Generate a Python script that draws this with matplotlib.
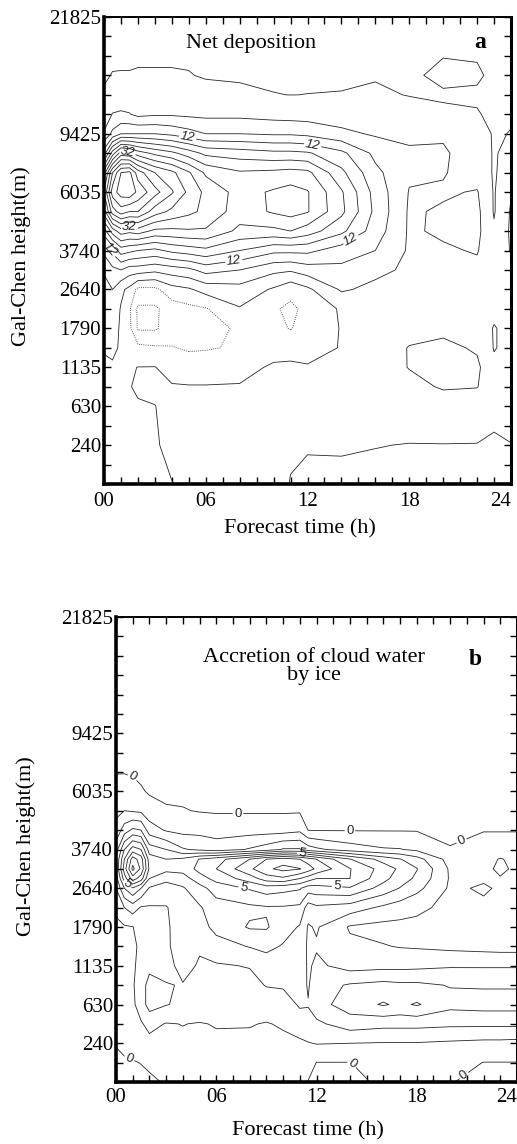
import numpy as np
import matplotlib
matplotlib.use("Agg")
import matplotlib.pyplot as plt

plt.rcParams["font.family"] = ["Liberation Serif", "DejaVu Serif"]

# axis labelling: model level index -> Gal-Chen height
level_ticks = [2, 4, 6, 8, 10, 12, 15, 18, 24]
height_labels = ["240", "630", "1135", "1790", "2640", "3740", "6035", "9425", "21825"]
hour_ticks = [0, 6, 12, 18, 24]
hour_labels = ["00", "06", "12", "18", "24"]

# ---------------- panel a: net deposition ----------------
hours_a = [0, 0.5, 1, 1.5, 2, 3, 4, 5, 6, 8, 10, 11, 12, 14, 16, 18, 20, 22, 23, 24]
levels_a = [0, 2, 4, 5, 6, 7, 8, 9, 10, 11, 12, 13, 14, 15, 16, 17, 18, 19, 20, 21, 22, 24]
# one profile per hour, bottom -> top
net_dep_cols = [
    [-0.5, -0.5, -0.5, -0.5, -0.4, 0.2, 1.0, 1.5, 2.5, 4.5, 9, 18, 30, 36, 30, 14, 4.5, 1.2, 0.3, -0.3, -0.5, -0.5],
    [-0.6, -0.6, -0.6, -0.6, -0.3, 0.5, 1.5, 2.5, 4, 7, 13, 26, 42, 50, 44, 26, 9, 4.2, 1.0, 0.1, -0.4, -0.5],
    [-0.5, -0.5, -0.5, -0.5, -0.6, -0.3, -0.5, -0.3, 0.8, 8, 18, 30, 46, 54, 52, 34, 12, 4.5, 1.8, 0.1, -0.3, -0.5],
    [-0.8, -0.8, -0.5, -0.1, -0.3, -1.5, -3, -3.5, -1, 6, 17, 29, 44, 55, 53, 33, 12, 4.2, 1.5, 0.1, -0.3, -0.5],
    [-0.8, -0.6, -0.2, 0.3, 0.05, -3, -8.5, -8.7, -5, 6, 16, 30, 44, 51, 46, 30, 12, 3.0, 1.5, 0.2, -0.3, -0.5],
    [-0.3, -0.2, -0.05, 0.6, 0.1, -3.5, -8.5, -8.7, -5, 5, 15, 27, 38, 45.5, 40, 27, 12, 3.5, 1.5, 0.2, -0.3, -0.5],
    [-0.05, 0.5, 0.8, 0.3, -1.5, -3.8, -6, -6, -1.5, 6, 17, 27, 35, 40.5, 37, 25, 11, 3.5, 1.5, 0.2, -0.3, -0.5],
    [0.3, 0.8, 1, 0.2, -2, -4.5, -5.5, -5, -0.5, 7, 18, 27.5, 33, 35, 32.5, 22, 9.5, 3.2, 1.2, 0.1, -0.3, -0.5],
    [1, 1, 0.8, 0.2, -2, -4.3, -5, -4.3, 1.5, 9.5, 19, 27.5, 31, 31, 27.3, 19, 8, 3, 0.8, -0.2, -0.4, -0.5],
    [1, 1, 0.8, 0.3, -1.5, -3.6, -3.6, -0.3, 2.5, 8, 16, 23, 26, 26.5, 24.5, 18, 8, 3, 0.5, -0.3, -0.4, -0.5],
    [1, 0.8, 0.6, 0.5, 0.6, -1.8, -3, -3.5, -0.5, 5, 13, 23, 28.5, 28.5, 25, 17, 7.5, 2.5, 0.05, -0.3, -0.4, -0.5],
    [-0.1, 0.3, 0.5, 0.6, 0.7, -1.5, -4.2, -4.8, -2.8, 4.5, 13, 24, 29.5, 29.5, 25.5, 17, 7.5, 2.3, -0.02, -0.3, -0.4, -0.5],
    [-0.3, 0.1, 0.5, 0.6, 0.3, -1.5, -2.5, -3, -0.8, 6, 13, 22, 28.3, 28.3, 25, 16.5, 7, 2.2, 0.02, -0.3, -0.4, -0.5],
    [-0.5, 0.2, 0.6, 0.8, 0.6, 0.2, 0.2, 0.5, 4.5, 7, 10, 17, 21, 20.5, 17, 13, 5, 1.8, 0.05, -0.2, -0.4, -0.5],
    [-0.5, 0.05, 0.8, 1, 1.2, 1.5, 1.5, 2, 3, 5, 8, 10, 11, 10.5, 9, 7, 3.5, 1.5, 0.4, -0.2, -0.4, -0.5],
    [-0.5, -0.05, 1, 2.5, 4.2, 4.2, 2.5, 2.2, 2.5, 3.3, 3.5, 3.5, 3.5, 3.8, 4.6, 4.8, 2.8, 1.2, -0.1, -0.3, -0.4, -0.5],
    [-0.5, -0.05, 1.5, 4.5, 5.5, 5, 3, 2, 2.5, 3.5, 3.5, 4.6, 4.5, 3.5, 4.3, 4.5, 3.5, 0.3, -0.2, 0.4, -0.05, -0.5],
    [-0.5, -0.05, 1, 4.2, 4.8, 3.5, 2, 2, 2.5, 3, 4.3, 5, 5, 4.3, 2, 2, 1.5, 0.1, -0.2, 0.2, -0.1, -0.5],
    [-0.5, -0.3, 0.6, 1, 0.8, -0.2, -0.2, 0.8, 1, 1, 1, 0.5, -0.3, -0.3, -0.3, -0.3, -0.3, -0.3, -0.3, -0.3, -0.4, -0.5],
    [-0.5, -0.05, 0.8, 1, 1, 1, 1, 1, 1.5, 2.5, 4.3, 4.6, 4.4, 3.8, 1.5, 1, 0.1, -0.3, -0.3, -0.3, -0.3, -0.5],
]
net_dep = np.array(net_dep_cols).T
pos_levels_a = list(range(0, 57, 4))
neg_levels_a = [-8, -4]
labels_a = {12: [(4.9, 17.6), (12.3, 17.4), (7.7, 11.2), (14.8, 12.2), (0.65, 12.3)],
            32: [(1.35, 16.8), (1.5, 13.2)]}

# ---------------- panel b: accretion of cloud water by ice ----------------
hours_b = [0, 0.5, 1, 1.5, 2, 3, 4, 5, 6, 8, 9, 10, 11, 11.5, 12, 14, 16, 17, 18, 20, 22, 23, 24]
levels_b = [0, 1, 2, 3, 4, 5, 6, 7, 8, 9, 10, 10.5, 11, 11.5, 12, 13, 14, 15, 16, 18, 24]
accretion_cols = [
    [-0.4, -0.2, 0.05, 0.3, 0.4, 0.5, 0.6, 0.7, 0.8, 1.2, 2.0, 2.5, 3.0, 3.0, 2.5, 1.3, 0.8, 0.4, -0.05, -0.3, -0.3],
    [-0.4, -0.1, 0.2, 0.4, 0.5, 0.6, 0.7, 0.8, 0.9, 2.0, 4.0, 5.5, 6.5, 6.0, 5.0, 2.5, 1.0, 0.5, -0.05, -0.3, -0.3],
    [-0.3, -0.05, 0.3, 0.6, 0.8, 0.9, 0.9, 0.9, 0.98, 2.5, 4.9, 7.5, 9.3, 8.5, 6.5, 3.2, 0.9, 0.3, -0.1, -0.3, -0.3],
    [-0.2, 0.02, 0.5, 0.9, 1.5, 1.5, 1.2, 1.1, 1.3, 1.9, 4.0, 6.5, 7.8, 7.5, 6.0, 3.0, 0.8, 0.1, -0.2, -0.3, -0.3],
    [-0.1, 0.1, 0.7, 1.3, 2.4, 2.4, 1.7, 1.4, 1.7, 1.9, 2.9, 4.0, 4.8, 4.5, 3.5, 1.5, 0.4, -0.1, -0.3, -0.3, -0.3],
    [0.05, 0.5, 0.8, 0.95, 2.05, 2.05, 1.7, 1.8, 1.85, 1.95, 2.5, 3.3, 4.3, 4.0, 3.0, 0.9, 0.1, -0.2, -0.3, -0.3, -0.3],
    [0.2, 0.6, 0.85, 1.02, 1.8, 1.95, 2.3, 2.6, 2.5, 2.4, 2.9, 3.5, 4.4, 4.2, 2.1, 0.7, 0.05, -0.2, -0.3, -0.3, -0.3],
    [0.3, 0.6, 0.85, 0.95, 1.6, 1.8, 1.9, 2.1, 2.6, 2.9, 3.6, 4.6, 5.3, 5.05, 1.8, 0.7, -0.05, -0.3, -0.3, -0.3, -0.3],
    [0.3, 0.6, 0.85, 1.05, 1.5, 1.7, 1.9, 2.6, 3.3, 3.5, 4.5, 5.3, 6.0, 5.6, 1.5, 0.6, -0.1, -0.3, -0.3, -0.3, -0.3],
    [0.3, 0.5, 0.8, 1.05, 1.4, 1.7, 2.05, 3.05, 4.1, 3.8, 5.1, 6.5, 7.8, 7.0, 2.1, 0.6, -0.1, -0.3, -0.3, -0.3, -0.3],
    [0.3, 0.5, 0.8, 0.95, 1.5, 2.05, 2.4, 3.3, 4.1, 3.9, 5.5, 7.5, 8.8, 8.0, 2.5, 0.6, -0.1, -0.3, -0.3, -0.3, -0.3],
    [0.3, 0.5, 0.8, 1.1, 1.6, 2.1, 2.6, 2.9, 3.5, 3.9, 5.3, 7.8, 9.3, 8.5, 3.1, 0.6, -0.1, -0.3, -0.3, -0.3, -0.3],
    [0.1, 0.4, 0.8, 1.6, 2.1, 2.5, 2.7, 2.6, 2.9, 3.8, 5.1, 7.0, 9.05, 8.0, 3.1, 0.8, -0.1, -0.3, -0.3, -0.3, -0.3],
    [-0.05, 0.5, 0.95, 1.7, 2.05, 1.9, 1.85, 1.85, 1.9, 2.5, 4.5, 6.5, 8.5, 7.5, 2.5, -0.02, -0.2, -0.3, -0.3, -0.3, -0.3],
    [-0.1, -0.02, 1.05, 1.8, 2.6, 2.6, 2.2, 1.9, 2.1, 2.8, 4.6, 6.0, 7.8, 7.0, 2.2, -0.05, -0.3, -0.3, -0.3, -0.3, -0.3],
    [-0.3, -0.02, 1.0, 2.5, 3.5, 3.1, 1.6, 1.2, 0.9, 2.5, 4.9, 6.0, 6.05, 5.05, 1.5, -0.05, -0.3, -0.3, -0.3, -0.3, -0.3],
    [0.2, 0.5, 0.95, 2.3, 4.1, 3.3, 1.7, 1.05, 0.7, 1.8, 3.6, 4.3, 4.6, 3.6, 1.1, -0.05, -0.3, -0.3, -0.3, -0.3, -0.3],
    [0.3, 0.5, 0.95, 2.3, 3.8, 3.2, 1.7, 0.95, 0.7, 1.5, 2.95, 3.5, 3.8, 3.05, 1.05, -0.05, -0.3, -0.3, -0.3, -0.3, -0.3],
    [0.3, 0.5, 0.95, 2.3, 4.1, 3.2, 1.75, 0.9, 0.75, 1.2, 2.3, 2.8, 3.05, 2.4, 0.8, -0.05, -0.3, -0.3, -0.3, -0.3, -0.3],
    [0.05, 0.4, 0.85, 2.2, 3.3, 2.95, 1.9, 0.75, 0.7, 0.75, 0.85, 0.9, 0.85, 0.6, 0.05, -0.2, -0.3, -0.3, -0.3, -0.3, -0.3],
    [-0.3, -0.02, 0.75, 2.2, 3.4, 2.9, 1.9, 0.65, 0.75, 0.85, 1.1, 0.9, 0.8, 0.7, 0.5, -0.05, -0.3, -0.3, -0.3, -0.3, -0.3],
    [-0.3, -0.02, 0.75, 2.2, 3.4, 2.9, 1.9, 0.6, 0.75, 0.8, 0.9, 0.95, 1.15, 1.05, 0.5, -0.05, -0.3, -0.3, -0.3, -0.3, -0.3],
    [-0.3, -0.02, 0.7, 2.2, 3.4, 2.9, 1.9, 0.6, 0.7, 0.75, 0.8, 0.85, 0.85, 0.8, 0.5, -0.05, -0.3, -0.3, -0.3, -0.3, -0.3],
]
accretion = np.array(accretion_cols).T
pos_levels_b = list(range(0, 10))
labels_b = {0: [(1.1, 15.9), (7.3, 13.9), (14.0, 13.0), (20.6, 12.6), (1.1, 1.8), (14.2, 1.0), (20.6, 0.6)],
            5: [(1.0, 10.6), (11.1, 11.5), (7.7, 10.3), (13.2, 9.7)]}

line_col = "#262626"

W, H = 517, 1144
fig = plt.figure(figsize=(W / 100, H / 100), dpi=100)
ax_a = fig.add_axes([104 / W, 1 - 484 / H, 407 / W, 467 / H])
ax_b = fig.add_axes([116 / W, 1 - 1082 / H, 401 / W, 465 / H])


def style_axes(ax, xpad):
    ax.set_xlim(0, 24)
    ax.set_ylim(0, 24)
    ax.set_xticks(range(25))
    ax.set_xticklabels([hour_labels[hour_ticks.index(h)] if h in hour_ticks else "" for h in range(25)])
    ax.set_yticks(range(25))
    ax.set_yticklabels([height_labels[level_ticks.index(l)] if l in level_ticks else "" for l in range(25)])
    ax.tick_params(direction="in", length=5, width=1.0, top=True, right=True, labelsize=15)
    ax.tick_params(axis="x", pad=xpad)
    ax.tick_params(axis="y", pad=2)
    ax.get_xticklabels()[-1].set_horizontalalignment("right")
    ax.spines["left"].set_linewidth(2.6)
    ax.spines["bottom"].set_linewidth(2.6)
    ax.spines["right"].set_linewidth(2.2)
    ax.spines["top"].set_linewidth(1.4)


def draw_field(ax, hours, levels, field, pos_levels, neg_levels, spots, italic):
    if neg_levels:
        ax.contour(hours, levels, field, levels=neg_levels, colors=line_col,
                   linewidths=0.6, linestyles=[(0, (1, 1.6))])
    plain = [v for v in pos_levels if v not in spots]
    ax.contour(hours, levels, field, levels=plain, colors=line_col,
               linewidths=0.6, linestyles="solid")
    # labelled levels get their own contour set so clabel can place them by hand
    for lev, pts in spots.items():
        cs = ax.contour(hours, levels, field, levels=[lev], colors=line_col,
                        linewidths=0.6, linestyles="solid")
        txts = ax.clabel(cs, manual=pts, inline=True, inline_spacing=2,
                         fmt="%d", fontsize=9.5, colors=line_col)
        for t in txts:
            t.set_fontfamily("Liberation Sans")
            if italic:
                t.set_fontstyle("italic")


# panel a
draw_field(ax_a, hours_a, levels_a, net_dep, pos_levels_a, neg_levels_a, labels_a, True)
style_axes(ax_a, 6)
ax_a.text(8.67, 22.66, "Net deposition", fontsize=16, ha="center", va="center")
ax_a.text(22.2, 22.7, "a", fontsize=17, fontweight="bold", ha="center", va="center")

# panel b
draw_field(ax_b, hours_b, levels_b, accretion, pos_levels_b, [], labels_b, False)
style_axes(ax_b, 4)
ax_b.text(11.85, 21.45, "Accretion of cloud water\nby ice", fontsize=16, ha="center",
          va="center", linespacing=0.95)
ax_b.text(21.5, 21.8, "b", fontsize=17, fontweight="bold", ha="center", va="center")

# axis titles
fig.text(21 / W, 1 - 256 / H, "Gal-Chen height(m)", rotation=90, fontsize=16, ha="center", va="center")
fig.text(26 / W, 1 - 846 / H, "Gal-Chen height(m)", rotation=90, fontsize=16, ha="center", va="center")
fig.text(300 / W, 1 - 529 / H, "Forecast time (h)", fontsize=16, ha="center", va="center")
fig.text(308 / W, 1 - 1131 / H, "Forecast time (h)", fontsize=16, ha="center", va="center")

fig.savefig("out.png", dpi=100, facecolor="white")
